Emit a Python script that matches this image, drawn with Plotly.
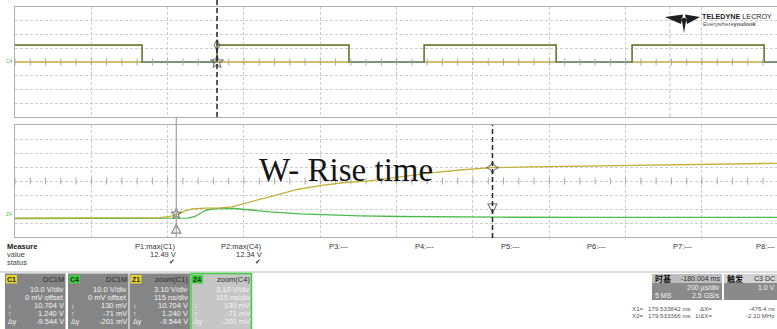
import plotly.graph_objects as go

W, H = 777, 329

# ---------------- full record: C1 / C4 gate bursts (µs, 200 µs/div) ----------------
TOP_US_PER_DIV = 200
burst_start_us = [-40, 529.3, 1072, 1617]
burst_end_us = [333, 875, 1418, 1963]
c1_high_v = 12.49
c4_high_v = 12.34

# ---------------- zoom traces Z1 (C1) / Z4 (C4) around the edge (ns, 115 ns/div) ----
ZOOM_NS_PER_DIV = 115
zoom_t_c1_ns = [0, 188.3, 218.4, 233.5, 245.6, 256.1, 266.7, 286.3, 308.9, 326.9, 346.5,
                369.1, 399.2, 424.9, 459.5, 497.2, 530.3, 560.5, 595.1, 629.8, 670.4,
                717.1, 775.9, 851.2, 911.5, 1001.9, 1077.2, 1148]
zoom_v_c1 = [0.02, 0.02, 0.16, 0.44, 0.95, 1.66, 2.06, 2.24, 2.28, 2.55, 3.28,
             4.16, 5.38, 6.38, 7.26, 7.93, 8.25, 8.81, 9.52, 10.10, 10.70,
             11.20, 11.38, 11.54, 11.65, 11.89, 12.05, 12.18]
zoom_t_c4_ns = [0, 218.4, 245.6, 260.6, 271.2, 278.7, 286.3, 296.8, 311.9, 331.5, 354.1,
                384.2, 429.4, 474.6, 519.8, 580.0, 655.4, 730.7, 881.4, 1148]
zoom_v_c4 = [-0.04, -0.04, -0.02, 0.02, 0.40, 1.06, 1.73, 2.06, 2.19, 2.17, 1.84,
             1.44, 1.00, 0.73, 0.55, 0.40, 0.29, 0.24, 0.22, 0.20]

# cursors
cursor_top_us = 529.3
ref_top_us = 1716
cursor_x1_ns = 243.0
cursor_dx_ns = 476.4
cursor_x2_ns = cursor_x1_ns + cursor_dx_ns

# measurement table
meas_names = ["P1:max(C1)", "P2:max(C4)", "P3:---", "P4:---", "P5:---", "P6:---", "P7:---", "P8:---"]
meas_values = ["12.49 V", "12.34 V", "", "", "", "", "", ""]
meas_ok = [True, True, False, False, False, False, False, False]

# channel descriptor boxes
ch_labels = ["C1", "C4", "Z1", "Z4"]
ch_headers = ["DC1M", "DC1M", "zoom(C1)", "zoom(C4)"]
ch_scale = ["10.0 V/div", "10.0 V/div", "3.10 V/div", "3.10 V/div"]
ch_second = ["0 mV offset", "0 mV offset", "115 ns/div", "115 ns/div"]
ch_y1 = ["10.704 V", "130 mV", "10.704 V", "130 mV"]
ch_y2 = ["1.240 V", "-71 mV", "1.240 V", "-71 mV"]
ch_dy = ["-9.544 V", "-201 mV", "-9.544 V", "-201 mV"]

# ---------------- geometry of the display (pixels) ----------------
PX_PER_DIV = 76.33
GRID_LEFT = 15
SCREEN_DIVS = (W - GRID_LEFT) / PX_PER_DIV
YEL = "#c4b03c"
GRN_TOP = "#587552"
GRN = "#4cbb4c"
GRID = "#cdcdcd"
BORDER = "#b0b0b0"


def px(x):
    return x / W


def py(y):
    return 1 - y / H


fig = go.Figure()

# C1 burst envelope (top level + baseline under each burst)
c1x, c1y = [], []
for s, e in zip(burst_start_us, burst_end_us):
    c1x += [s, s, e, e, s, None]
    c1y += [0, c1_high_v, c1_high_v, 0, 0, None]
fig.add_trace(go.Scatter(x=c1x, y=c1y, mode="lines", line=dict(color=YEL, width=1.6),
                         xaxis="x", yaxis="y", hoverinfo="skip"))

# C4 step waveform
c4x, c4y = [], []
for s, e in zip(burst_start_us, burst_end_us):
    c4x += [s, e]
    c4y += [c4_high_v, 0]
c4x.append(SCREEN_DIVS * TOP_US_PER_DIV + 50)
c4y.append(0)
fig.add_trace(go.Scatter(x=c4x, y=c4y, mode="lines", line=dict(color=GRN_TOP, width=1.3, shape="hv"),
                         xaxis="x", yaxis="y", hoverinfo="skip"))

# centre-axis minor ticks
top_ticks = [i * TOP_US_PER_DIV / 5 for i in range(int(SCREEN_DIVS * 5) + 1)]
fig.add_trace(go.Scatter(x=top_ticks, y=[0] * len(top_ticks), mode="markers",
                         marker=dict(symbol="line-ns", size=5, line=dict(width=1, color="#a8a8a8")),
                         xaxis="x", yaxis="y", hoverinfo="skip"))
bot_center = -4.14 + 4 * 3.1
bot_ticks = [i * ZOOM_NS_PER_DIV / 5 for i in range(int(SCREEN_DIVS * 5) + 1)]
fig.add_trace(go.Scatter(x=bot_ticks, y=[bot_center] * len(bot_ticks), mode="markers",
                         marker=dict(symbol="line-ns", size=5, line=dict(width=1, color="#a8a8a8")),
                         xaxis="x2", yaxis="y2", hoverinfo="skip"))

# zoom traces
fig.add_trace(go.Scatter(x=zoom_t_c4_ns, y=zoom_v_c4, mode="lines", line=dict(color=GRN, width=1.3),
                         xaxis="x2", yaxis="y2", hoverinfo="skip"))
fig.add_trace(go.Scatter(x=zoom_t_c1_ns, y=zoom_v_c1, mode="lines", line=dict(color=YEL, width=1.3),
                         xaxis="x2", yaxis="y2", hoverinfo="skip"))

# cursor markers
fig.add_trace(go.Scatter(x=[cursor_top_us, cursor_top_us], y=[0, c4_high_v], mode="markers",
                         marker=dict(symbol=["star-open", "diamond-tall-open"], size=[10, 8],
                                     color="#555", line=dict(width=1.2, color="#555")),
                         xaxis="x", yaxis="y", hoverinfo="skip"))
fig.add_trace(go.Scatter(x=[cursor_x1_ns, cursor_x1_ns, cursor_x2_ns, cursor_x2_ns],
                         y=[1.0, -1.3, 11.2, 1.2], mode="markers",
                         marker=dict(symbol=["star-open", "arrow-up-open", "star-diamond-open", "arrow-down-open"],
                                     size=[8, 9, 9, 9], color="#555", line=dict(width=1.2, color="#555")),
                         xaxis="x2", yaxis="y2", hoverinfo="skip"))

axis_common = dict(showticklabels=False, ticks="", showgrid=True, gridcolor=GRID, gridwidth=1,
                   griddash="3px,2px", zeroline=False, showline=True, linecolor=BORDER,
                   linewidth=1, mirror=True, fixedrange=True)

top_dom = [py(117), py(7)]
bot_dom = [py(237), py(125)]
x_dom = [px(GRID_LEFT), 1]

fig.update_layout(
    width=W, height=H, margin=dict(l=0, r=0, t=0, b=0),
    paper_bgcolor="white", plot_bgcolor="white", showlegend=False,
    font=dict(family="Liberation Sans", size=8, color="#333"),
    xaxis=dict(domain=x_dom, range=[0, SCREEN_DIVS * TOP_US_PER_DIV], dtick=TOP_US_PER_DIV, tick0=0,
               anchor="y", **axis_common),
    yaxis=dict(domain=top_dom, range=[-40, 40], dtick=10, tick0=0, anchor="x", **axis_common),
    xaxis2=dict(domain=x_dom, range=[0, SCREEN_DIVS * ZOOM_NS_PER_DIV], dtick=ZOOM_NS_PER_DIV, tick0=0,
                anchor="y2", **axis_common),
    yaxis2=dict(domain=bot_dom, range=[-4.14, 20.66], dtick=3.1, tick0=-4.14, anchor="x2", **axis_common),
)

shapes = []
# cursors
shapes.append(dict(type="line", xref="x", yref="paper", x0=cursor_top_us, x1=cursor_top_us,
                   y0=py(117), y1=1, line=dict(color="#222", width=1.5, dash="5px,3px")))
shapes.append(dict(type="line", xref="x", yref="paper", x0=ref_top_us, x1=ref_top_us,
                   y0=py(117), y1=py(7), line=dict(color="#c4c4c4", width=1, dash="4px,2px")))
shapes.append(dict(type="line", xref="x2", yref="paper", x0=cursor_x1_ns, x1=cursor_x1_ns,
                   y0=py(237), y1=py(118), line=dict(color="#a0a0a0", width=1.2)))
shapes.append(dict(type="line", xref="x2", yref="paper", x0=cursor_x2_ns, x1=cursor_x2_ns,
                   y0=py(238), y1=py(125), line=dict(color="#222", width=1.5, dash="5px,3px")))


def rect(x0, y0, x1, y1, fill, line=None, lw=0):
    return dict(type="rect", xref="paper", yref="paper", x0=px(x0), x1=px(x1), y0=py(y1), y1=py(y0),
                fillcolor=fill, line=dict(width=lw, color=line or fill), layer="above")


# separator under the measurement table
shapes.append(rect(0, 271, W, 273, "#dcdcdc"))

anns = []


def txt(x, y, text, size=8, color="#333", xa="left", family="Liberation Sans", ya="middle"):
    anns.append(dict(x=px(x), y=py(y), xref="paper", yref="paper", text=text, showarrow=False,
                     xanchor=xa, yanchor=ya, borderpad=0, font=dict(size=size, color=color, family=family)))


# channel descriptor boxes
box_x = [5, 68, 129.5, 191]
box_w = 60.5
for i, lab in enumerate(ch_labels):
    x0 = box_x[i]
    x1 = x0 + box_w
    selected = lab == "Z4"
    shapes.append(rect(x0, 273.5, x1, 330, "#c6c6c6" if selected else "#858585",
                       "#3dd13d" if selected else "#858585", 1.5 if selected else 0))
    badge = "#e6d32c" if lab.endswith("1") else "#3dd13d"
    shapes.append(rect(x0 + 1, 275, x0 + 12, 283.5, badge))
    txt(x0 + 6.5, 279.5, "<b>%s</b>" % lab, 7, "#222", "center")
    txt(x1 - 1, 279.5, ch_headers[i], 7.5, "#2a2a2a", "right")
    txt(x1 - 1, 289.5, ch_scale[i], 7.5, "#f4f4f4", "right")
    txt(x1 - 1, 297.5, ch_second[i], 7.5, "#f4f4f4", "right")
    txt(x1 - 1, 305.5, ch_y1[i], 7.5, "#f4f4f4", "right")
    txt(x1 - 1, 313.5, ch_y2[i], 7.5, "#f4f4f4", "right")
    txt(x1 - 1, 321.5, ch_dy[i], 7.5, "#f4f4f4", "right")
    txt(x0 + 2, 305.5, "↓", 7, "#f4f4f4")
    txt(x0 + 2, 313.5, "↑", 7, "#f4f4f4")
    txt(x0 + 2, 321.5, "Δy", 7, "#f4f4f4")

# measurement table
txt(6, 246.5, "<b>Measure</b>", 7.5, "#222")
txt(6, 254.5, "value", 7.5, "#444")
txt(6, 262, "status", 7.5, "#444")
col_right = [177, 263, 349, 435, 521, 607, 693, 776]
for name, val, ok, xr in zip(meas_names, meas_values, meas_ok, col_right):
    txt(xr, 246.5, name, 7.5, "#333", "right")
    if val:
        txt(xr, 254.5, val, 7.5, "#333", "right")
    if ok:
        txt(xr - 5, 262, "✔", 7, "#333", "center", "DejaVu Sans")

# timebase / trigger boxes
shapes.append(rect(652, 274, 722, 283, "#bdbdbd"))
shapes.append(rect(652, 283, 722, 300, "#8a8a8a"))
shapes.append(rect(724, 274, 780, 283, "#d2d2d2"))
shapes.append(rect(724, 283, 780, 300, "#8a8a8a"))
txt(654, 278.5, "<b>时基</b>", 8, "#111", "left", "Noto Sans CJK SC")
txt(721, 278.5, "-180.004 ms", 7, "#333", "right")
txt(721, 287.5, "200 µs/div", 7, "#f4f4f4", "right")
txt(654, 295.5, "5 MS", 7, "#f4f4f4", "left")
txt(721, 295.5, "2.5 GS/s", 7, "#f4f4f4", "right")
txt(726, 278.5, "<b>触发</b>", 8, "#111", "left", "Noto Sans CJK SC")
txt(776, 278.5, "C3 DC", 7, "#333", "right")
txt(776, 287.5, "1.0 V", 7, "#f4f4f4", "right")

# cursor readouts
txt(631, 308, "X1=", 6.2, "#555")
txt(692, 308, "179.533842 ms", 6.2, "#555", "right")
txt(713, 308, "ΔX=", 6.2, "#555", "right")
txt(776, 308, "-476.4 ns", 6.2, "#555", "right")
txt(631, 315, "X2=", 6.2, "#555")
txt(692, 315, "179.533366 ms", 6.2, "#555", "right")
txt(713, 315, "1/ΔX=", 6.2, "#555", "right")
txt(776, 315, "-2.10 MHz", 6.2, "#555", "right")

# trace labels at the left edge
txt(9, 61, "C4", 5, GRN, "center")
txt(9, 214, "Z4", 5, GRN, "center")

# annotation on the zoom view
txt(346, 170, "W- Rise time", 33, "#151515", "center", "Liberation Serif")

# brand mark
shapes.append(dict(type="path", xref="paper", yref="paper", layer="above",
                   path="M %f %f L %f %f L %f %f Z M %f %f L %f %f L %f %f Z M %f %f L %f %f L %f %f Z" % (
                       px(665), py(17), px(683), py(14.5), px(681), py(24),
                       px(700), py(17), px(685), py(14.5), px(687), py(24),
                       px(681.5), py(18), px(686.5), py(18), px(684), py(33)),
                   fillcolor="#1e1e1e", line=dict(width=0)))
txt(701, 16, "<b>TELEDYNE</b> LECROY", 7.2, "#1e1e1e", "left", "Liberation Sans")
txt(702, 24, "Everywhere<b>youlook</b>", 5.8, "#555", "left", "Liberation Sans")

fig.update_layout(shapes=shapes, annotations=anns)

fig.write_html("out.html")
